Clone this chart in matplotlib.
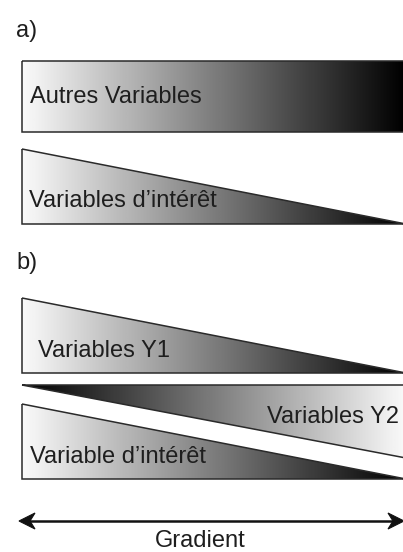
import numpy as np
import matplotlib
matplotlib.use("Agg")
import matplotlib.pyplot as plt
from matplotlib.patches import Polygon

plt.rcParams['font.family'] = ['Liberation Sans', 'DejaVu Sans']

# Shapes (pixel coordinates in a 403x552 canvas, y downward)
rect_a = [(22, 61), (406, 61), (406, 132), (22, 132)]
tri_a = [(22, 149), (406, 224), (22, 224)]
tri_y1 = [(22, 298), (406, 373), (22, 373)]
tri_y2 = [(22, 385), (406, 385), (406, 458)]
tri_int = [(22, 404), (406, 479), (22, 479)]

shapes = [rect_a, tri_a, tri_y1, tri_y2, tri_int]
directions = [1, 1, 1, -1, 1]  # 1: light->dark left to right, -1: reversed

labels = ["Autres Variables", "Variables d\u2019int\u00e9r\u00eat", "Variables Y1",
          "Variables Y2", "Variable d\u2019int\u00e9r\u00eat"]
label_pos = [(30, 97, 'left'), (29, 201, 'left'), (38, 351, 'left'),
             (399, 417, 'right'), (30, 457, 'left')]

panel_labels = ["a)", "b)"]
panel_pos = [(16, 31), (16, 263)]

fig = plt.figure(figsize=(4.03, 5.52), dpi=100)
ax = fig.add_axes([0, 0, 1, 1])
ax.set_xlim(0, 403)
ax.set_ylim(552, 0)
ax.axis('off')

for verts, d in zip(shapes, directions):
    xs = [v[0] for v in verts]
    ys = [v[1] for v in verts]
    grad = np.linspace(0.02, 1.0, 256)[None, :]
    if d < 0:
        grad = grad[:, ::-1]
    im = ax.imshow(grad, cmap='gray_r', vmin=0, vmax=1, aspect='auto',
                   extent=(min(xs), max(xs), max(ys), min(ys)),
                   interpolation='bilinear', zorder=1)
    poly = Polygon(verts, closed=True, facecolor='none', edgecolor='#2a2a2a',
                   linewidth=1.1, zorder=2)
    ax.add_patch(poly)
    im.set_clip_path(poly)

fs = 17
for text, (x, y, ha) in zip(labels, label_pos):
    ax.text(x, y, text, ha=ha, va='center', fontsize=fs, color='#1e1e1e', zorder=3)

for text, (x, y) in zip(panel_labels, panel_pos):
    ax.text(x, y, text, ha='left', va='center', fontsize=fs, color='#1e1e1e')

# Double-headed arrow with notched heads
ay = 521
x0, x1 = 19, 404
ax.plot([x0 + 8, x1 - 8], [ay, ay], color='#111111', linewidth=1.8, solid_capstyle='butt')
left_head = [(x0, ay), (x0 + 16, ay - 8), (x0 + 11, ay), (x0 + 16, ay + 8)]
right_head = [(x1, ay), (x1 - 16, ay - 8), (x1 - 11, ay), (x1 - 16, ay + 8)]
for h in (left_head, right_head):
    ax.add_patch(Polygon(h, closed=True, facecolor='#111111', edgecolor='#111111',
                         linewidth=0.8, zorder=3))

ax.text(200, 541, "Gradient", ha='center', va='center', fontsize=fs, color='#1e1e1e')

ax.set_xlim(0, 403)
ax.set_ylim(552, 0)
fig.savefig("out.png", dpi=100)
